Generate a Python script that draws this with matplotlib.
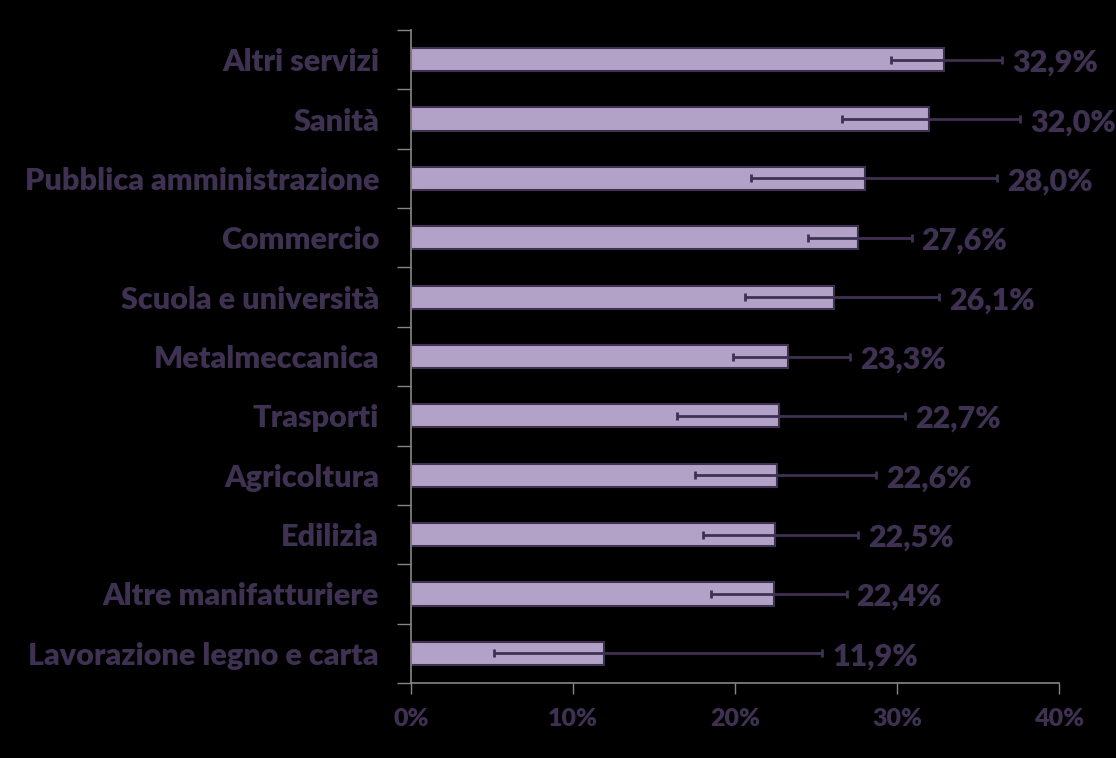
import matplotlib
matplotlib.use('Agg')
import matplotlib.pyplot as plt
import numpy as np

# settori, dall'alto in basso
sectors = ['Altri servizi', 'Sanità', 'Pubblica amministrazione', 'Commercio',
           'Scuola e università', 'Metalmeccanica', 'Trasporti', 'Agricoltura',
           'Edilizia', 'Altre manifatturiere', 'Lavorazione legno e carta']
values = [32.9, 32.0, 28.0, 27.6, 26.1, 23.3, 22.7, 22.6, 22.5, 22.4, 11.9]
err_low = [29.6, 26.6, 21.0, 24.5, 20.6, 19.9, 16.4, 17.5, 18.0, 18.5, 5.1]
err_high = [36.5, 37.6, 36.2, 30.9, 32.6, 27.1, 30.5, 28.7, 27.6, 26.9, 25.4]
xticks = [0, 10, 20, 30, 40]

dark = '#3F3151'
bar_col = '#B3A2C7'
axis_col = '#868686'
font = ['Lato', 'DejaVu Sans']

fig = plt.figure(figsize=(11.16, 7.58), dpi=100, facecolor='black')
ax = fig.add_axes([0.3683, 0.0989, 0.5806, 0.8615], facecolor='black')

n = len(sectors)
y = np.arange(n)[::-1]
vals = np.array(values)
lo = vals - np.array(err_low)
hi = np.array(err_high) - vals

ax.barh(y, vals, height=0.39, color=bar_col, edgecolor=dark, linewidth=1.5, zorder=2)
ax.errorbar(vals, y, xerr=[lo, hi], fmt='none', ecolor=dark, elinewidth=2,
            capsize=3, capthick=2, zorder=3)

for yi, v, h in zip(y, values, err_high):
    ax.text(h + 0.6, yi - 0.05, f'{v:.1f}%'.replace('.', ','), va='center', ha='left',
            color=dark, fontsize=22, fontweight='heavy', family=font, zorder=4)

ax.set_xlim(0, 40)
ax.set_ylim(-0.5, n - 0.5)
ax.set_xticks(xticks)
ax.set_xticklabels([f'{t}%' for t in xticks], color=dark, fontsize=18,
                   fontweight='heavy', family=font)
ax.tick_params(axis='x', length=8, color=axis_col, width=1, pad=10)

# etichette categorie come minor tick, tacche ai confini
ax.set_yticks(np.arange(n + 1) - 0.5)
ax.set_yticklabels([])
ax.set_yticks(y, minor=True)
ax.set_yticklabels(sectors, minor=True, color=dark, fontsize=22,
                   fontweight='heavy', family=font)
ax.tick_params(axis='y', which='major', length=10, color=axis_col, width=1)
ax.tick_params(axis='y', which='minor', length=0, pad=23)

for s in ['top', 'right']:
    ax.spines[s].set_visible(False)
for s in ['left', 'bottom']:
    ax.spines[s].set_color(axis_col)
    ax.spines[s].set_linewidth(1.2)

fig.savefig('out.png', dpi=100, facecolor='black')
